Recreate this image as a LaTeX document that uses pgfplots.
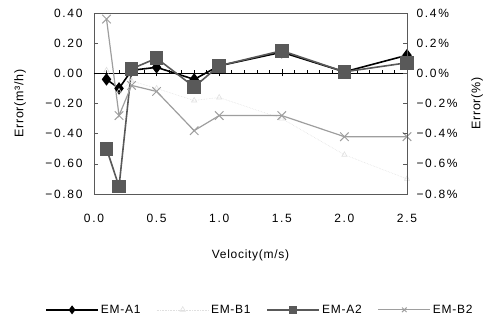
\documentclass[border=0pt]{standalone}
\usepackage{pgfplots}
\pgfplotsset{compat=1.18}
\usepackage{fontspec}
\setmainfont{Liberation Sans}
\newfontfamily\tickfont[LetterSpace=14]{Liberation Sans}
\newfontfamily\labfont[LetterSpace=6]{Liberation Sans}
\definecolor{spine}{gray}{0.35}
\definecolor{ctwo}{gray}{0.35}
\definecolor{cbtwo}{gray}{0.62}
\definecolor{cbone}{gray}{0.88}
\begin{document}
\begin{tikzpicture}
\useasboundingbox (-94pt,-133pt) rectangle (395pt,194pt);
\begin{axis}[
  at={(0,0)}, anchor=south west,
  scale only axis, width=313pt, height=181pt,
  xmin=0, xmax=2.5, ymin=-0.8, ymax=0.4,
  clip=false,
  axis line style={spine, line width=0.8pt},
  xtick={0,0.5,1,1.5,2,2.5},
  xticklabels={0.0,0.5,1.0,1.5,2.0,2.5},
  x tick style={draw=none},
  ytick={-0.8,-0.6,-0.4,-0.2,0,0.2,0.4},
  yticklabels={−0.80,−0.60,−0.40,−0.20,0.00,0.20,0.40},
  ytick pos=left, tick align=inside,
  y tick style={spine, line width=0.6pt}, major tick length=4pt,
  xticklabel style={font=\tickfont\fontsize{12}{14}\selectfont, yshift=-17pt},
  yticklabel style={font=\tickfont\fontsize{12}{14}\selectfont, xshift=-8pt},
  xlabel={Velocity(m/s)},
  ylabel={Error(m³/h)},
  every axis x label/.style={at={(axis description cs:0.5,-0.34)}, anchor=center, font=\labfont\fontsize{12}{14}\selectfont},
  every axis y label/.style={at={(axis description cs:-0.236,0.5)}, rotate=90, anchor=center, font=\labfont\fontsize{12.5}{14}\selectfont},
  legend columns=4,
  legend style={draw=none, fill=none, at={(axis description cs:0.53,-0.64)}, anchor=center,
    font=\labfont\fontsize{12}{14}\selectfont,
    /tikz/every even column/.append style={column sep=14pt}},
  legend image code/.code={\draw[mark repeat=2,mark phase=2,#1,mark size=3.2pt] plot coordinates {(0pt,0pt) (26pt,0pt) (52pt,0pt)};},
]
% zero line with ticks
\draw[black, line width=0.7pt] (axis cs:0,0) -- (axis cs:2.5,0);
\pgfplotsinvokeforeach{0.1,0.2,0.3,0.4,0.6,0.7,0.8,0.9,1.1,1.2,1.3,1.4,1.6,1.7,1.8,1.9,2.1,2.2,2.3,2.4}
  {\draw[black, line width=0.5pt] (axis cs:#1,0) -- ([yshift=3pt]axis cs:#1,0);}
\pgfplotsinvokeforeach{0.5,1.0,1.5,2.0}
  {\draw[black, line width=0.6pt] ([yshift=-3pt]axis cs:#1,0) -- ([yshift=4pt]axis cs:#1,0);}

\addplot[black, line width=1.6pt, mark=diamond*, mark size=5pt, mark options={solid}]
  coordinates {(0.1,-0.04)(0.2,-0.10)(0.3,0.02)(0.5,0.04)(0.8,-0.04)(1.0,0.05)(1.5,0.14)(2.0,0.01)(2.5,0.12)};
\addlegendentry{EM-A1}
\addplot[cbone, line width=0.6pt, densely dotted, mark=triangle, mark size=3pt, mark options={solid}]
  coordinates {(0.1,0.02)(0.2,-0.12)(0.3,-0.05)(0.5,-0.10)(0.8,-0.18)(1.0,-0.16)(1.5,-0.30)(2.0,-0.54)(2.5,-0.70)};
\addlegendentry{EM-B1}
\addplot[ctwo, line width=1.6pt, mark=square*, mark size=6pt, mark options={solid, fill=ctwo}]
  coordinates {(0.1,-0.50)(0.2,-0.75)(0.3,0.03)(0.5,0.10)(0.8,-0.09)(1.0,0.05)(1.5,0.15)(2.0,0.01)(2.5,0.07)};
\addlegendentry{EM-A2}
\addplot[cbtwo, line width=1.2pt, mark=x, mark size=6pt, mark options={solid, line width=1pt}]
  coordinates {(0.1,0.36)(0.2,-0.28)(0.3,-0.08)(0.5,-0.12)(0.8,-0.38)(1.0,-0.28)(1.5,-0.28)(2.0,-0.42)(2.5,-0.42)};
\addlegendentry{EM-B2}
\end{axis}
\begin{axis}[
  at={(0,0)}, anchor=south west,
  scale only axis, width=313pt, height=181pt,
  xmin=0, xmax=2.5, ymin=-0.8, ymax=0.4,
  axis x line=none,
  axis y line*=right,
  axis line style={spine, line width=0.8pt},
  ytick={-0.8,-0.6,-0.4,-0.2,0,0.2,0.4},
  yticklabels={−0.8\%,−0.6\%,−0.4\%,−0.2\%,0.0\%,0.2\%,0.4\%},
  tick align=inside, major tick length=4pt,
  y tick style={spine, line width=0.6pt},
  yticklabel style={font=\tickfont\fontsize{12}{14}\selectfont, xshift=6pt},
  ylabel={Error(\%)},
  every axis y label/.style={at={(axis description cs:1.224,0.5)}, rotate=90, anchor=center, font=\labfont\fontsize{12.5}{14}\selectfont},
]
\end{axis}
\end{tikzpicture}
\end{document}
